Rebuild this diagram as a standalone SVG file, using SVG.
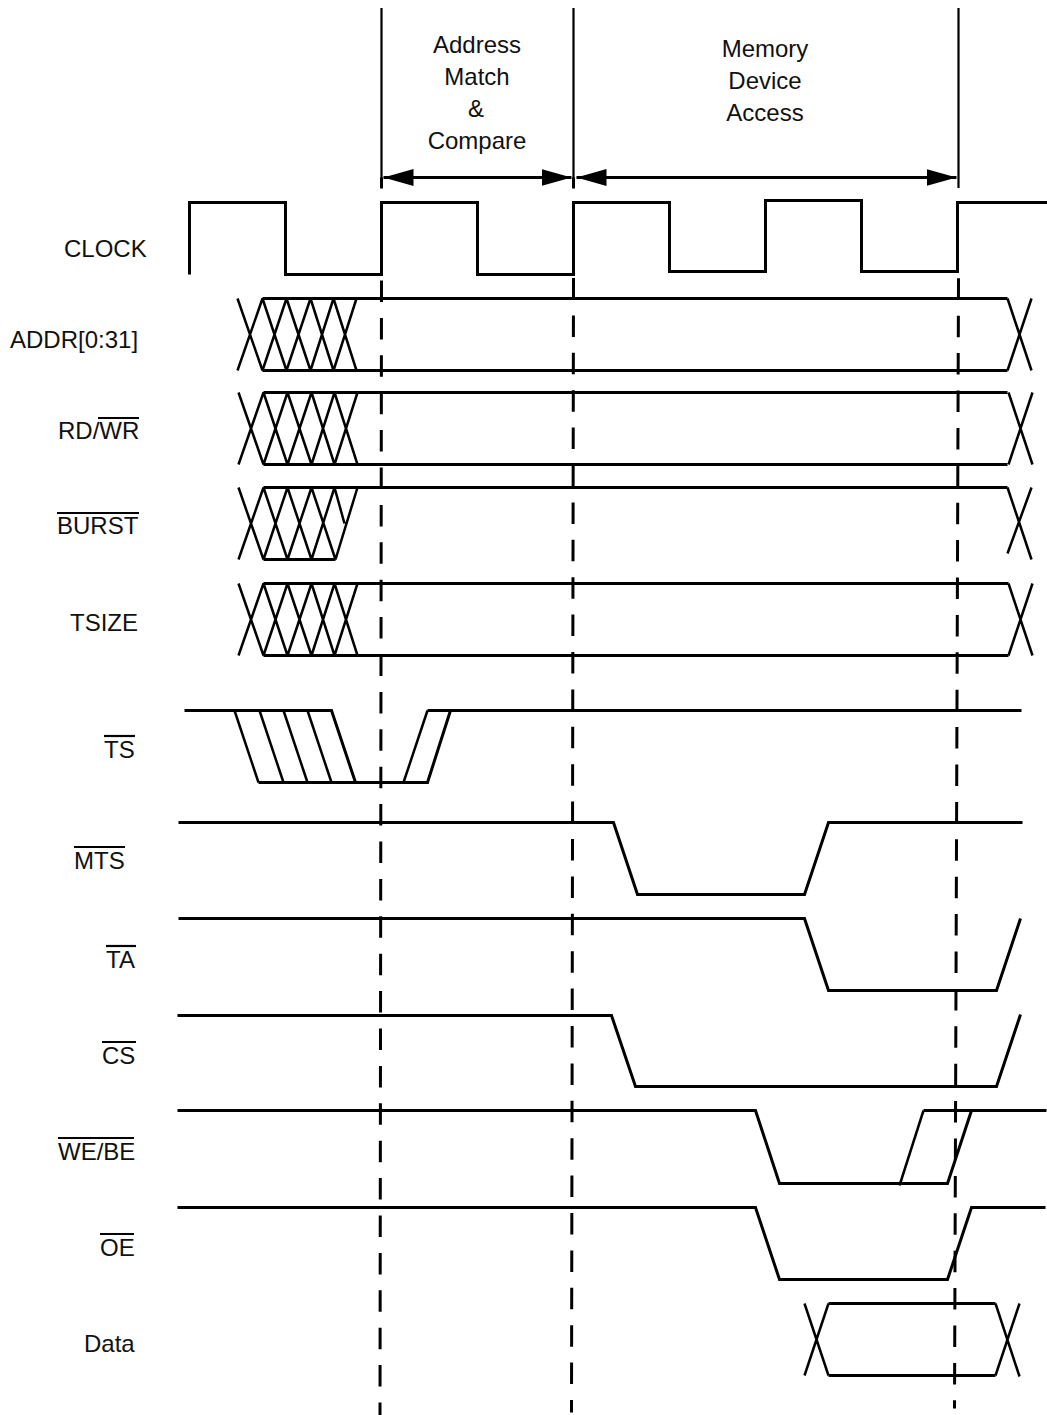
<svg xmlns="http://www.w3.org/2000/svg" width="1047" height="1415" viewBox="0 0 1047 1415">
<style>
text{font-family:"Liberation Sans",Arial,sans-serif;font-size:24px;fill:#111}
.c{text-anchor:middle}
.s{fill:none;stroke:#000;stroke-width:3;stroke-linejoin:miter;transform:translate(.5px,.5px)}
.t{fill:none;stroke:#000;stroke-width:2.5;transform:translate(.5px,.5px)}
.g{fill:none;stroke:#000;stroke-width:3;transform:translate(.5px,.5px)}
.v{fill:none;stroke:#000;stroke-width:2.2;transform:translate(.5px,0)}
.d{stroke-dasharray:21.5 15.9}
.b{stroke:#000;stroke-width:2.2;fill:none}
</style>
<defs>
<marker id="ah" markerUnits="userSpaceOnUse" markerWidth="31" markerHeight="18" refX="30" refY="9" orient="auto-start-reverse"><path d="M0,0.5L30,9L0,17.5Z" fill="#000"/></marker>
<path id="xx" class="t" d="M237,0L262,72M237,72L262,0M262,0L286,72M262,72L286,0M286,0L310,72M286,72L310,0M310,0L333,72M310,72L333,0M333,0L356,72M333,72L356,0"/>
</defs>
<rect width="1047" height="1415" fill="#fff"/>
<g id="connectors">
<path class="v" d="M381,8V188M573,8V188M958,8V188"/>
<path class="g" d="M381,177V188M573,177V188"/>
<path class="g" d="M383,177H571" marker-start="url(#ah)" marker-end="url(#ah)"/>
<path class="g" d="M576,177H956" marker-start="url(#ah)" marker-end="url(#ah)"/>
<path class="g d" d="M381,280L379.5,1415"/>
<path class="g d" d="M573,277.5L571,1412"/>
<path class="g d" d="M958,277.8L954,1408"/>
</g>
<g id="note-address"><text class="c" x="477" y="53">Address</text><text class="c" x="477" y="85">Match</text><text class="c" x="476" y="117">&amp;</text><text class="c" x="477" y="149">Compare</text></g>
<g id="note-memory"><text class="c" x="765" y="57">Memory</text><text class="c" x="765" y="89">Device</text><text class="c" x="765" y="121">Access</text></g>
<g id="clock"><text x="64" y="257">CLOCK</text>
<path class="s" d="M189,274V202H285V274H381V202H477V274H573V202H669V271H765V200H861V271H957V202H1047"/></g>
<g id="addr"><text x="10" y="348">ADDR[0:31]</text>
<use href="#xx" y="298"/>
<path class="s" d="M262,298H1007M262,370H1007"/><path class="t" d="M1007,298L1031,370M1007,370L1031,298"/></g>
<g id="rdwr"><text x="58" y="439">RD/WR</text><path class="b" d="M98,418H139"/>
<use href="#xx" x="1" y="392"/>
<path class="s" d="M263,392H1007M263,464H1007"/><path class="t" d="M1008,392L1032,464M1008,464L1032,392"/></g>
<g id="burst"><text x="57" y="534">BURST</text><path class="b" d="M57,513H139"/>
<path class="t" d="M238,487L263,559M238,559L263,487M263,487L287,559M263,559L287,487M287,487L311,559M287,559L311,487M311,487L335,559M311,559L334,487M334,487L344,523M335,559L357,487"/>
<path class="s" d="M263,487H1007M263,559H335"/><path class="t" d="M1007,487L1031,559M1007,553L1031,487"/></g>
<g id="tsize"><text x="70" y="631">TSIZE</text>
<use href="#xx" x="1" y="583"/>
<path class="s" d="M263,583H1008M263,655H1008"/><path class="t" d="M1008,583L1032,655M1008,655L1032,583"/></g>
<g id="ts"><text x="104" y="758">TS</text><path class="b" d="M104,736H135"/>
<path class="s" d="M184,710H331L355,782M258,782H427L450,710M427,710H1021"/>
<path class="t" d="M234,710L258,782M259,710L283,782M283,710L307,782M307,710L331,782M403,782L427,710"/></g>
<g id="mts"><text x="74" y="869">MTS</text><path class="b" d="M74,847H125"/>
<path class="s" d="M178,822H613L637,894H804L828,822H1022"/></g>
<g id="ta"><text x="106" y="968">TA</text><path class="b" d="M106,946H136"/>
<path class="s" d="M178,918H804L828,990H996L1020,918"/></g>
<g id="cs"><text x="102" y="1064">CS</text><path class="b" d="M102,1042H136"/>
<path class="s" d="M177,1015H611L635,1086H996L1020,1014"/></g>
<g id="webe"><text x="58" y="1160">WE/BE</text><path class="b" d="M58,1138H134"/>
<path class="s" d="M177,1110H755L779,1183H947L971,1110M923,1110H1046"/><path class="t" d="M899,1185L923,1110"/></g>
<g id="oe"><text x="100" y="1256">OE</text><path class="b" d="M100,1234H134"/>
<path class="s" d="M177,1207H755L779,1279H947L971,1207H1045"/></g>
<g id="data"><text x="84" y="1352">Data</text>
<path class="s" d="M828,1303H995M828,1375H995"/><path class="t" d="M804,1303L828,1375M804,1375L828,1303M995,1303L1019,1376M995,1375L1019,1303"/></g>
</svg>
